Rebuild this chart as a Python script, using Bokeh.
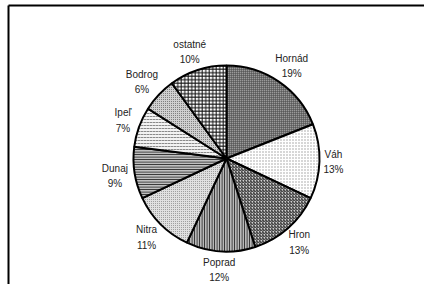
import math
from bokeh.plotting import figure
from bokeh.models import Range1d, ColumnDataSource
from bokeh.core.properties import value
from bokeh.embed import file_html
from bokeh.resources import INLINE

# ---- data ----
rivers = ["Hornád", "Váh", "Hron", "Poprad", "Nitra", "Dunaj", "Ipeľ", "Bodrog", "ostatné"]
shares = [19, 13, 13, 12, 11, 9, 7, 6, 10]

# ---- styles ----
fills = ["#9a9a9a", "#ffffff", "#d0d0d0", "#b8b8b8", "#e0e0e0", "#c0c0c0", "#f2f2f2", "#d0d0d0", "#ffffff"]
hatches = ["cross", "dot", "right_diagonal_line", "vertical_line", "dot", "horizontal_line",
           "horizontal_dash", "dot", "cross"]
hatch_colors = ["#444444", "#9a9a9a", "#222222", "#1a1a1a", "#8a8a8a", "#1a1a1a", "#8a8a8a", "#666666", "#111111"]
hatch_scales = [2, 3, 3, 2.5, 2, 2.5, 3, 2, 3.5]

W, H = 424, 284
cx, cy = 226, 126
R = 93
gap = 5

total = sum(shares)
starts, ends, lx, ly, labels = [], [], [], [], []
cum = 0
for name, s in zip(rivers, shares):
    c0 = cum / total
    c1 = (cum + s) / total
    cum += s
    starts.append(math.pi / 2 - 2 * math.pi * c1)
    ends.append(math.pi / 2 - 2 * math.pi * c0)
    mid = 2 * math.pi * (c0 + c1) / 2  # clockwise from top
    sx, sy = math.sin(mid), math.cos(mid)
    halfw = 3.0 * max(len(name), 3)
    halfh = 14
    lx.append(cx + (R + gap) * sx + sx * halfw)
    ly.append(cy + (R + gap) * sy + sy * halfh)
    labels.append(f"{name}\n{round(100 * s / total)}%")

src = ColumnDataSource(dict(start=starts, end=ends, fill=fills, hatch=hatches,
                            hcol=hatch_colors, hscale=hatch_scales))

p = figure(width=W, height=H, output_backend="svg", toolbar_location=None,
           x_range=Range1d(0, W), y_range=Range1d(0, H), min_border=0)
p.axis.visible = False
p.grid.visible = False
p.outline_line_color = None
p.background_fill_color = "white"

# frame (top and left edges of the chart area)
p.segment(x0=[8, 8], y0=[H - 5, H - 5], x1=[W, 8], y1=[H - 5, 0], line_color="black", line_width=2)

p.wedge(x=cx, y=cy, radius=R, radius_units="screen", start_angle="start", end_angle="end",
        fill_color="fill", hatch_pattern="hatch", hatch_color="hcol", hatch_scale="hscale",
        hatch_weight=1, line_color="black", line_width=2, source=src)

p.text(x=lx, y=ly, text=labels, text_align="center", text_baseline="middle",
       text_font=value("Liberation Sans"), text_font_size="10px", text_color="#222222",
       text_line_height=1.4)

open("out.html", "w").write(file_html(p, INLINE))
